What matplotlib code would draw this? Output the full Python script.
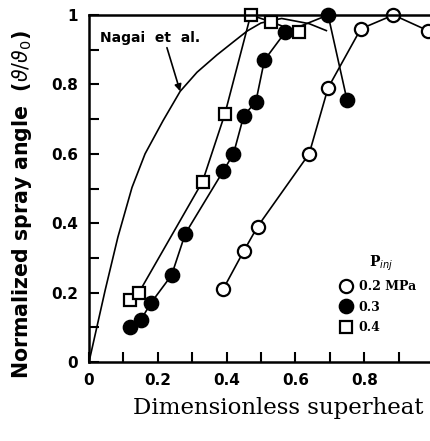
import matplotlib
matplotlib.use('Agg')
import matplotlib.pyplot as plt

# 0.2 MPa (open circles)
x02 = [0.39, 0.45, 0.49, 0.64, 0.695, 0.79, 0.885, 0.985]
y02 = [0.21, 0.32, 0.39, 0.60, 0.79, 0.96, 1.00, 0.955]
# 0.3 MPa (filled circles)
x03 = [0.12, 0.15, 0.18, 0.24, 0.28, 0.39, 0.42, 0.45, 0.485, 0.51, 0.57, 0.695, 0.75]
y03 = [0.10, 0.12, 0.17, 0.25, 0.37, 0.55, 0.60, 0.71, 0.75, 0.87, 0.95, 1.00, 0.755]
# 0.4 MPa (open squares)
x04 = [0.12, 0.145, 0.33, 0.395, 0.47, 0.53, 0.61]
y04 = [0.18, 0.20, 0.52, 0.715, 1.00, 0.98, 0.95]
# Nagai et al. curve
xn = [0, 0.047, 0.084, 0.125, 0.163, 0.215, 0.265, 0.314, 0.372, 0.419, 0.46, 0.50, 0.56, 0.64, 0.69]
yn = [0, 0.207, 0.36, 0.503, 0.60, 0.695, 0.78, 0.835, 0.885, 0.922, 0.954, 0.977, 0.99, 0.975, 0.955]

xticks = [0, 0.2, 0.4, 0.6, 0.8]
xtick_labels = ['0', '0.2', '0.4', '0.6', '0.8']
yticks = [0, 0.2, 0.4, 0.6, 0.8, 1]
ytick_labels = ['0', '0.2', '0.4', '0.6', '0.8', '1']

W, H = 431, 441
fig = plt.figure(figsize=(W / 100, H / 100), dpi=100)
ax = fig.add_axes([89 / W, 1 - 362 / H, 344 / W, 347 / H])

lw = 1.2
ms = 9.5
ax.plot(xn, yn, color='black', lw=lw, clip_on=False)
l2, = ax.plot(x02, y02, color='black', lw=lw, marker='o', ms=ms, mfc='white', mec='black', mew=1.6,
              clip_on=False, label='0.2 MPa')
l3, = ax.plot(x03, y03, color='black', lw=lw, marker='o', ms=ms + 0.8, mfc='black', mec='black',
              clip_on=False, label='0.3')
l4, = ax.plot(x04, y04, color='black', lw=lw, marker='s', ms=ms - 1, mfc='white', mec='black', mew=1.6,
              clip_on=False, label='0.4')

ax.set_xlim(0, 1)
ax.set_ylim(0, 1)
ax.spines['right'].set_visible(False)
for s in ['left', 'bottom', 'top']:
    ax.spines[s].set_linewidth(1.8)

ax.set_xticks([0.1 * i for i in range(10)], minor=True)
ax.set_yticks([0.1 * i for i in range(11)], minor=True)
ax.set_xticks(xticks)
ax.set_xticklabels(xtick_labels)
ax.set_yticks(yticks)
ax.set_yticklabels(ytick_labels)
ax.tick_params(which='both', direction='in', width=1.5, top=False, right=False)
ax.tick_params(which='major', length=7, labelsize=11, pad=8)
ax.tick_params(which='minor', length=7)
for t in ax.get_xticklabels() + ax.get_yticklabels():
    t.set_fontweight('bold')

ax.set_ylabel('Normalized spray angle  ($\\vartheta/\\vartheta_0$)', fontsize=14.8, fontweight='bold',
              va='center')
ax.yaxis.set_label_coords(-0.195, 0.455)
ax.set_xlabel('Dimensionless superheat', fontsize=16.5, family='DejaVu Serif')
ax.xaxis.set_label_coords(0.55, -0.10)

ax.annotate('Nagai  et  al.', xy=(0.265, 0.78), xytext=(0.032, 0.934),
            fontsize=10, fontweight='bold', va='center',
            arrowprops=dict(arrowstyle='-|>', color='black', lw=1.2, shrinkA=0, shrinkB=0,
                            relpos=(0.66, 0)))

leg = ax.legend(handles=[l2, l3, l4], title='P$_{inj}$', frameon=False, handlelength=0,
                handletextpad=1.0, labelspacing=0.6, loc='upper left',
                bbox_to_anchor=(0.715, 0.345), prop={'weight': 'bold', 'size': 9, 'family': 'DejaVu Serif'})
leg.get_title().set_fontsize(10)
leg.get_title().set_family('DejaVu Serif')
leg.get_title().set_fontweight('bold')

fig.savefig('out.png', dpi=100)
